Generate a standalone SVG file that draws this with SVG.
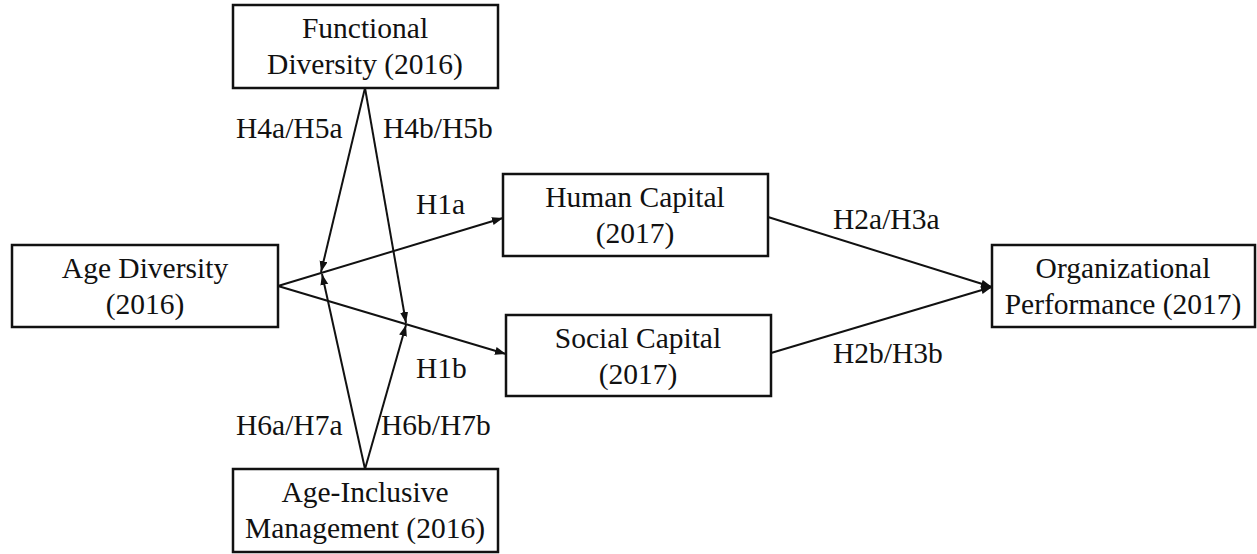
<svg xmlns="http://www.w3.org/2000/svg" width="1257" height="554" viewBox="0 0 1257 554">
<style>
.box{fill:#fff;stroke:#111;stroke-width:2.5}
.t{font-family:"Liberation Serif","Times New Roman",serif;font-size:29.5px;fill:#111;text-anchor:middle}
.l{font-family:"Liberation Serif","Times New Roman",serif;font-size:29.5px;fill:#111}
.c{stroke:#111;stroke-width:2;fill:none;marker-end:url(#ah)}
</style>
<defs>
<marker id="ah" markerUnits="userSpaceOnUse" markerWidth="12" markerHeight="10" refX="11" refY="4" orient="auto">
<path d="M0,0 L11,4 L0,8 Z" fill="#111"/>
</marker>
</defs>
<rect width="1257" height="554" fill="#fff"/>
<g id="connectors">
<line class="c" x1="278" y1="286" x2="503" y2="218"/>
<line class="c" x1="278" y1="286" x2="506" y2="354"/>
<line class="c" x1="768" y1="217" x2="992" y2="287"/>
<line class="c" x1="771" y1="353" x2="992" y2="287"/>
<line class="c" x1="365" y1="88" x2="321" y2="272"/>
<line class="c" x1="365" y1="88" x2="406" y2="323"/>
<line class="c" x1="365" y1="469" x2="322" y2="274"/>
<line class="c" x1="365" y1="469" x2="406" y2="325"/>
<text class="l" x="236" y="138">H4a/H5a</text>
<text class="l" x="383" y="138">H4b/H5b</text>
<text class="l" x="416" y="214">H1a</text>
<text class="l" x="416" y="378">H1b</text>
<text class="l" x="236" y="435">H6a/H7a</text>
<text class="l" x="381" y="435">H6b/H7b</text>
<text class="l" x="833" y="229">H2a/H3a</text>
<text class="l" x="833" y="363">H2b/H3b</text>
</g>
<g id="functional">
<rect class="box" x="233" y="5" width="265" height="83"/>
<text class="t" x="365" y="38">Functional</text>
<text class="t" x="365" y="74">Diversity (2016)</text>
</g>
<g id="agediv">
<rect class="box" x="12" y="245" width="266" height="82"/>
<text class="t" x="145" y="278">Age Diversity</text>
<text class="t" x="145" y="314">(2016)</text>
</g>
<g id="human">
<rect class="box" x="503" y="174" width="265" height="82"/>
<text class="t" x="635" y="207">Human Capital</text>
<text class="t" x="635" y="243">(2017)</text>
</g>
<g id="social">
<rect class="box" x="506" y="315" width="265" height="81"/>
<text class="t" x="638" y="348">Social Capital</text>
<text class="t" x="638" y="384">(2017)</text>
</g>
<g id="orgperf">
<rect class="box" x="992" y="245" width="263" height="82"/>
<text class="t" x="1123" y="278">Organizational</text>
<text class="t" x="1123" y="314">Performance (2017)</text>
</g>
<g id="ageinc">
<rect class="box" x="233" y="469" width="265" height="83"/>
<text class="t" x="365" y="502">Age-Inclusive</text>
<text class="t" x="365" y="538">Management (2016)</text>
</g>
</svg>
